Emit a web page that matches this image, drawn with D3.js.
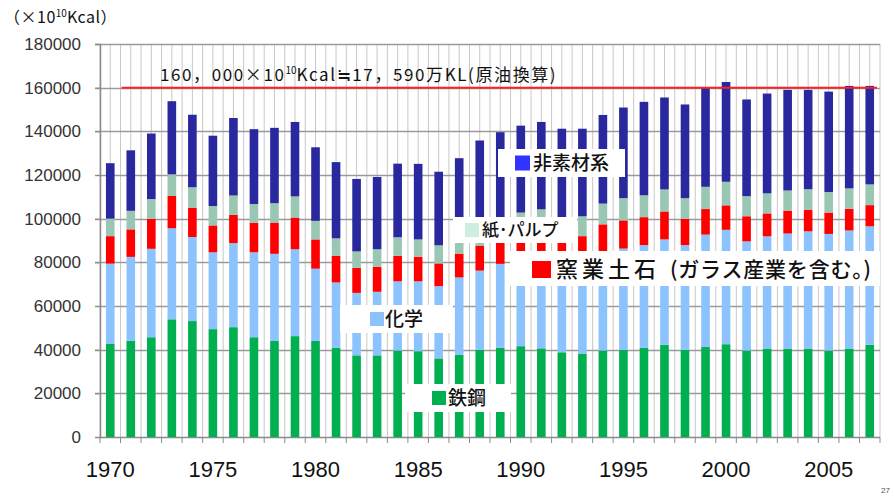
<!DOCTYPE html>
<html>
<head>
<meta charset="utf-8">
<script src="https://cdn.jsdelivr.net/npm/d3@7"></script>
<style>
  body { margin: 0; background: #fff; }
  svg { display: block; }
  text { font-family: "Liberation Sans", Arial, "Noto Sans CJK JP", sans-serif; }
  .jp { font-family: "Noto Sans CJK JP", sans-serif; }
</style>
</head>
<body>
<svg id="chart" width="894" height="497"></svg>
<script>
const years = d3.range(1970, 2008);
const keys = ['steel', 'chem', 'ceramic', 'paper', 'other'];
const labels = ['鉄鋼', '化学', '窯業土石', '紙・パルプ', '非素材系'];

const steel = [42600, 44000, 45700, 53900, 53100, 49400, 50300, 45700, 44000, 46200,
  44000, 40800, 37400, 37400, 39600, 39300, 36000, 37700, 39900, 40800,
  41600, 40600, 38800, 38200, 39600, 39900, 40800, 42200, 39900, 41200,
  42500, 39600, 40500, 40500, 40500, 39600, 40500, 42200];
const chem = [36800, 38500, 40500, 41700, 38500, 35200, 38500, 38900, 39900, 39800,
  33100, 30000, 28600, 29100, 31700, 32000, 33100, 35400, 36300, 38500,
  42400, 44400, 44200, 43800, 45400, 46400, 47100, 48300, 48000, 51500,
  52400, 50000, 51400, 52700, 53700, 53400, 54100, 54300];
const ceramic = [12600, 12600, 13700, 14800, 13400, 12300, 12900, 13500, 14300, 14500,
  13400, 12200, 11500, 11500, 11700, 11200, 10400, 10900, 11500, 11800,
  10000, 11000, 10000, 10000, 12400, 12900, 12800, 12800, 12000, 11700,
  11200, 11500, 10500, 10500, 9800, 9800, 9900, 9700];
const paper = [8000, 8500, 9100, 9900, 9400, 8900, 8900, 8600, 8900, 9700,
  8500, 8000, 7500, 8000, 8500, 8000, 8300, 9000, 8300, 8000,
  8800, 8300, 7500, 9100, 9500, 10200, 10000, 10100, 9500, 10200,
  10800, 9200, 9200, 9200, 9500, 9400, 9400, 9500];
const other = [25400, 27700, 30000, 33500, 33200, 32200, 35500, 34300, 34500, 34100,
  33700, 34900, 33200, 33100, 33700, 34600, 33700, 34700, 39800, 40500,
  39800, 40000, 40700, 40100, 40600, 41500, 42800, 42100, 42900, 45500,
  45700, 44300, 45700, 46100, 45500, 46000, 46900, 45100];

const yTicks = d3.range(0, 180001, 20000);
const xLabelYears = [1970, 1975, 1980, 1985, 1990, 1995, 2000, 2005];
const refValue = 160000;

const barColors = { steel: '#00b050', chem: '#8cc3ff', ceramic: '#ff0000', paper: '#99c7b3', other: '#29289e' };
const legendColors = { steel: '#00b050', chem: '#8cc3ff', ceramic: '#ff0000', paper: '#cdeee0', other: '#3333ff' };

const rows = years.map((yr, i) => ({
  year: yr, steel: steel[i], chem: chem[i], ceramic: ceramic[i], paper: paper[i], other: other[i]
}));

const svg = d3.select('#chart');
const plotLeft = 100, plotRight = 880, plotTop = 44, plotBottom = 437;

const x = d3.scaleBand().domain(years).range([plotLeft, plotRight]);
const y = d3.scaleLinear().domain([0, 180000]).range([plotBottom, plotTop]);

// vertical gridlines at every half category
const step = x.step();
const vLines = d3.range(0, years.length * 2 + 1).map(i => plotLeft + i * step / 2);
svg.append('g').selectAll('line')
  .data(vLines)
  .enter().append('line')
  .attr('x1', d => d).attr('x2', d => d)
  .attr('y1', plotTop).attr('y2', plotBottom)
  .attr('stroke', '#c8c8c8').attr('stroke-width', 1);

// horizontal gridlines
svg.append('g').selectAll('line')
  .data(yTicks.filter(d => d > 0))
  .enter().append('line')
  .attr('x1', plotLeft - 5).attr('x2', plotRight)
  .attr('y1', d => Math.round(y(d)) + 0.5).attr('y2', d => Math.round(y(d)) + 0.5)
  .attr('stroke', '#9a9a9a').attr('stroke-width', 1.5);

// y axis
const yAxis = svg.append('g')
  .attr('transform', `translate(${plotLeft},0)`)
  .call(d3.axisLeft(y).tickValues(yTicks).tickSize(5).tickPadding(14).tickFormat(d3.format('d')));
yAxis.select('.domain').attr('stroke', '#8a8a8a').attr('stroke-width', 1.5);
yAxis.selectAll('.tick line').attr('stroke', '#8a8a8a');
yAxis.selectAll('.tick text')
  .attr('font-size', 17).attr('fill', '#333')
  .style('font-family', '"Liberation Sans", Arial, sans-serif');

// x axis: ticks at category boundaries
const xAxisG = svg.append('g').attr('transform', `translate(0,${plotBottom})`);
xAxisG.append('line')
  .attr('x1', plotLeft).attr('x2', plotRight)
  .attr('y1', 0.5).attr('y2', 0.5)
  .attr('stroke', '#8a8a8a').attr('stroke-width', 1.5);
xAxisG.selectAll('line.tk')
  .data(d3.range(0, years.length + 1))
  .enter().append('line')
  .attr('class', 'tk')
  .attr('x1', i => plotLeft + i * step).attr('x2', i => plotLeft + i * step)
  .attr('y1', 0).attr('y2', 6)
  .attr('stroke', '#8a8a8a');
xAxisG.selectAll('text')
  .data(xLabelYears)
  .enter().append('text')
  .attr('x', d => x(d) + step / 2)
  .attr('y', 40)
  .attr('text-anchor', 'middle')
  .attr('font-size', 22)
  .attr('fill', '#111')
  .text(d => d);

// stacked bars
const stack = d3.stack().keys(keys);
const barW = step * 0.42;
svg.append('g').selectAll('g')
  .data(stack(rows))
  .enter().append('g')
  .attr('fill', d => barColors[d.key])
  .selectAll('rect')
  .data(d => d)
  .enter().append('rect')
  .attr('x', d => x(d.data.year) + (step - barW) / 2)
  .attr('width', barW)
  .attr('y', d => y(d[1]))
  .attr('height', d => y(d[0]) - y(d[1]));

// reference line
svg.append('line')
  .attr('x1', x(1970) + step * 1.05).attr('x2', plotRight - 3)
  .attr('y1', y(refValue)).attr('y2', y(refValue))
  .attr('stroke', '#ff2020').attr('stroke-width', 2);

const refText = svg.append('text')
  .attr('class', 'jp')
  .attr('x', 160).attr('y', 81)
  .attr('font-size', 17).attr('letter-spacing', 1.6).attr('fill', '#111');
refText.append('tspan').text('160，000×10');
refText.append('tspan').attr('font-size', 10).attr('letter-spacing', 0).attr('dy', -7).text('10');
refText.append('tspan').attr('dy', 7).text('Kcal≒17，590万KL(原油換算)');

// unit label
const unit = svg.append('text')
  .attr('class', 'jp')
  .attr('x', 4).attr('y', 23)
  .attr('font-size', 16).attr('letter-spacing', 0.5).attr('fill', '#111');
unit.append('tspan').text('（×10');
unit.append('tspan').attr('font-size', 10).attr('letter-spacing', 0).attr('dy', -6).text('10');
unit.append('tspan').attr('dy', 6).text('Kcal）');

// legend boxes placed inside the plot
const legendBoxes = [
  { key: 'other', x: 498, y: 149, w: 127, h: 28, sq: 15, size: 19, text: '非素材系' },
  { key: 'paper', x: 453, y: 217, w: 124, h: 26, sq: 14, size: 17, text: '紙･パルプ' },
  { key: 'chem', x: 340, y: 305, w: 113, h: 28, sq: 14, size: 19, text: '化学' },
  { key: 'steel', x: 405, y: 384, w: 106, h: 28, sq: 14, size: 19, text: '鉄鋼' }
];
const lg = svg.append('g').selectAll('g')
  .data(legendBoxes)
  .enter().append('g');
lg.append('rect')
  .attr('x', d => d.x).attr('y', d => d.y)
  .attr('width', d => d.w).attr('height', d => d.h)
  .attr('fill', '#fff');
lg.append('rect')
  .attr('x', d => d.x + (d.key === 'other' ? 17 : d.key === 'paper' ? 12 : d.key === 'chem' ? 30 : 27))
  .attr('y', d => d.y + (d.h - d.sq) / 2)
  .attr('width', d => d.sq).attr('height', d => d.sq)
  .attr('fill', d => legendColors[d.key]);
lg.append('text')
  .attr('class', 'jp')
  .attr('x', d => d.x + (d.key === 'other' ? 35 : d.key === 'paper' ? 29 : d.key === 'chem' ? 45 : 43))
  .attr('y', d => d.y + d.h / 2 + d.size * 0.36)
  .attr('font-size', d => d.size)
  .attr('font-weight', 500)
  .attr('fill', '#111')
  .text(d => d.text);

// ceramic legend (wide box)
const cg = svg.append('g');
cg.append('rect').attr('x', 510).attr('y', 251).attr('width', 370).attr('height', 35).attr('fill', '#fff');
cg.append('rect').attr('x', 532).attr('y', 261).attr('width', 19).attr('height', 17).attr('fill', legendColors.ceramic);
cg.append('text').attr('class', 'jp')
  .attr('x', 556).attr('y', 277).attr('font-size', 22).attr('letter-spacing', 4)
  .attr('font-weight', 500)
  .attr('fill', '#111').text(labels[2]);
cg.append('text').attr('class', 'jp')
  .attr('x', 670).attr('y', 277).attr('font-size', 21).attr('letter-spacing', 0.8)
  .attr('font-weight', 500)
  .attr('fill', '#111').text('(ガラス産業を含む。)');

// page number
svg.append('text')
  .attr('x', 890).attr('y', 493)
  .attr('text-anchor', 'end')
  .attr('font-size', 8).attr('fill', '#555')
  .text('27');
</script>
</body>
</html>
